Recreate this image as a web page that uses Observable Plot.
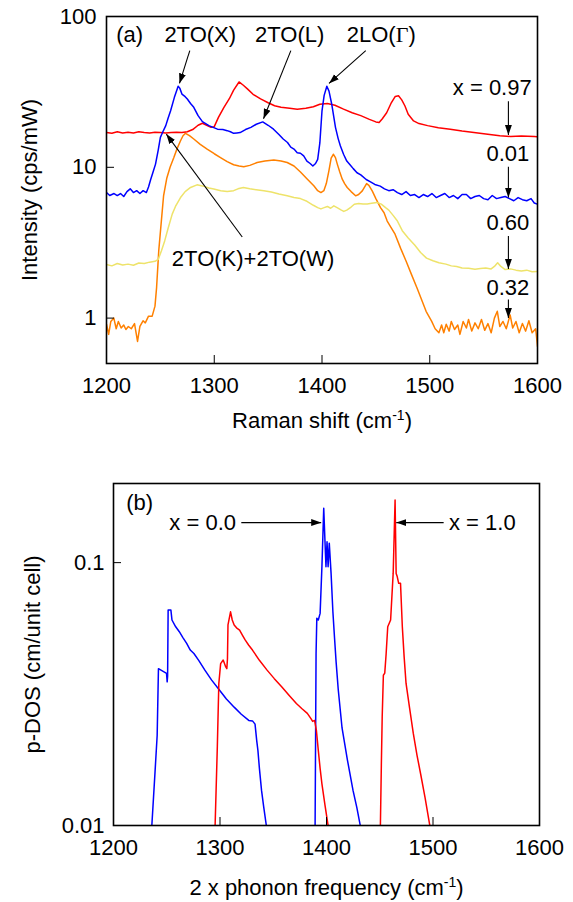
<!DOCTYPE html>
<html><head><meta charset="utf-8">
<script src="https://cdn.jsdelivr.net/npm/d3@7"></script>
<script src="https://cdn.jsdelivr.net/npm/@observablehq/plot@0.6"></script>
<style>
html,body{margin:0;padding:0;background:#fff;}
#chart{width:573px;}
#chart svg{display:block;}
</style></head><body><div id="chart"></div>
<script>
// ---------- Panel (a): Raman spectra [shift cm-1, intensity cps/mW] ----------
const spec097 = [[1200,17.0],[1205,16.8],[1210,17.2],[1215,16.9],[1220,17.1],[1225,16.9],[1230,17.2],[1235,17.0],[1240,16.9],[1245,17.1],[1250,17.0],[1255,16.9],[1260,17.0],[1265,17.1],[1270,17.0],[1275,17.2],[1280,17.8],[1285,19.0],[1289,19.6],[1293,19.0],[1297,18.4],[1300,18.6],[1304,21.5],[1309,25.0],[1314,28.5],[1318,32.5],[1323,36.8],[1327,35.0],[1331,33.0],[1336,30.5],[1343,28.4],[1350,26.8],[1356,25.6],[1362,25.0],[1370,24.6],[1377,24.3],[1385,24.6],[1392,25.2],[1398,26.2],[1405,26.5],[1412,25.8],[1420,24.3],[1428,23.0],[1436,22.0],[1444,20.8],[1450,20.0],[1453,19.8],[1456,21.0],[1460,23.0],[1464,26.5],[1468,29.5],[1471,29.8],[1474,28.0],[1477,25.5],[1480,22.5],[1485,20.3],[1490,19.5],[1498,18.9],[1508,18.3],[1519,17.9],[1530,17.4],[1541,17.0],[1552,16.6],[1565,16.2],[1575,16.0],[1585,16.1],[1597,16.0],[1600,15.9]];
const spec001 = [[1200,6.8],[1203,6.5],[1207,6.7],[1210,6.5],[1213,6.7],[1216,6.4],[1219,6.9],[1222,7.2],[1225,6.8],[1228,7.0],[1231,6.7],[1234,7.0],[1237,6.8],[1239,7.4],[1241,8.3],[1243,9.2],[1245.5,10.5],[1248,13.0],[1250,15.8],[1252,17.0],[1255,18.9],[1257,21.0],[1259.5,23.7],[1263,29.1],[1266.5,34.5],[1268,33.5],[1270,30.6],[1273,29.4],[1275,28.4],[1278,26.5],[1281,25.0],[1285,22.0],[1289,20.1],[1292,19.5],[1295,18.9],[1299,18.4],[1303,17.9],[1308,17.8],[1312,17.5],[1315,17.2],[1318,16.8],[1321,16.9],[1324,17.0],[1329,17.8],[1334,18.4],[1339,19.3],[1345,20.0],[1350,19.0],[1355,17.9],[1360,16.5],[1364,15.4],[1368,14.6],[1371,13.6],[1374,13.2],[1377,12.5],[1380,12.4],[1383,11.9],[1386,11.0],[1389,10.6],[1391.5,10.2],[1394,10.6],[1396,11.3],[1398,14.5],[1400,23.7],[1402,30.0],[1404.5,34.5],[1406.5,32.0],[1409,26.3],[1412.5,18.4],[1415,15.5],[1417,13.9],[1420,12.2],[1423,11.0],[1426,10.4],[1429,9.8],[1432.5,9.2],[1436,8.9],[1441,8.3],[1445,8.0],[1449,7.7],[1454,7.5],[1458,7.2],[1462,7.0],[1466,7.1],[1470,6.8],[1474,6.6],[1478,6.9],[1482,6.5],[1486,6.6],[1490,6.3],[1494,6.6],[1498,6.4],[1502,6.7],[1506,6.3],[1510,6.5],[1514,6.7],[1518,6.3],[1522,6.5],[1526,6.2],[1530,6.6],[1534,6.6],[1538,6.2],[1542,6.4],[1546,6.5],[1550,6.2],[1554,6.1],[1558,6.5],[1562,6.2],[1566,6.3],[1570,6.4],[1574,6.2],[1578,6.0],[1582,6.3],[1586,6.1],[1590,6.0],[1594,6.2],[1597,5.8],[1600,5.7]];
const spec060 = [[1200,2.27],[1205,2.22],[1210,2.3],[1215,2.25],[1220,2.28],[1225,2.24],[1230,2.32],[1235,2.3],[1240,2.35],[1245,2.38],[1248,2.45],[1251,2.8],[1254,3.25],[1257,3.9],[1261,4.89],[1264,5.5],[1268.7,6.3],[1273,6.9],[1278,7.35],[1284,7.65],[1290,7.5],[1295,7.3],[1299.6,7.17],[1306,7.0],[1312,6.9],[1318,7.0],[1322,7.2],[1327,7.35],[1333,7.2],[1339,7.1],[1346,7.0],[1353,6.85],[1360,6.65],[1367.7,6.47],[1374,6.3],[1380,6.2],[1386,5.95],[1392,5.6],[1396,5.4],[1399,5.3],[1402,5.4],[1405,5.5],[1408,5.35],[1411,5.55],[1414,5.4],[1418,5.2],[1420.2,5.1],[1423,5.2],[1427,5.45],[1430,5.69],[1434,5.75],[1438,5.7],[1442,5.72],[1446,5.78],[1451,5.85],[1455,5.7],[1459,5.4],[1462,5.2],[1466,4.8],[1470,4.4],[1474.5,3.8],[1480,3.4],[1486,3.05],[1491.5,2.72],[1497,2.5],[1503,2.4],[1508.5,2.33],[1515,2.28],[1520,2.22],[1525,2.2],[1530,2.15],[1536,2.14],[1542,2.11],[1547,2.13],[1552,2.15],[1557,2.12],[1560,2.2],[1563,2.33],[1566,2.2],[1570,2.1],[1575,2.12],[1580,2.08],[1585,2.05],[1590,2.08],[1595,2.03],[1600,2.04]];
const spec032 = [[1200,0.91],[1202,0.78],[1204,0.95],[1206.8,1.0],[1209,0.85],[1211,0.95],[1213.6,0.86],[1216,0.9],[1218,0.84],[1220.3,0.88],[1223,0.85],[1226,0.92],[1228.8,0.70],[1231,0.88],[1233.9,0.96],[1236,0.93],[1239,1.03],[1242.4,1.03],[1245,1.2],[1246.5,1.6],[1248.5,2.8],[1250.9,4.4],[1253,6.5],[1256,8.5],[1259,10.0],[1262.5,11.6],[1265.5,13.3],[1268.7,15.0],[1271,16.2],[1273.3,16.8],[1277,16.2],[1281,15.4],[1287,14.2],[1293.4,13.2],[1300,12.3],[1305.8,11.6],[1312,10.9],[1318,10.4],[1323,10.2],[1327.4,10.07],[1333,10.3],[1339.8,10.76],[1347,11.0],[1355.3,11.16],[1362,11.0],[1367.7,10.76],[1374,10.2],[1380,9.3],[1386,8.4],[1392.4,7.54],[1396,7.0],[1399,6.8],[1401.7,7.0],[1404,7.8],[1406.4,9.48],[1408.5,11.5],[1410.5,12.2],[1412.5,11.6],[1414.2,10.5],[1416.5,9.3],[1418.8,8.34],[1421,7.8],[1423.4,7.35],[1427,6.9],[1431.2,6.47],[1434,6.6],[1437.4,6.98],[1441.4,7.8],[1443.5,7.6],[1446.6,6.98],[1450,6.2],[1454.3,5.4],[1457.6,5.0],[1460.5,4.4],[1464,4.0],[1467.8,3.6],[1473,2.9],[1478,2.39],[1483,1.95],[1488.1,1.59],[1492,1.35],[1496.6,1.11],[1501.7,0.955],[1505,0.85],[1508.5,0.80],[1511,0.9],[1513,0.8],[1515.3,0.91],[1518,0.82],[1520,0.95],[1523,0.84],[1526,0.9],[1528,0.78],[1531,0.95],[1534,0.86],[1536,0.98],[1539,0.82],[1542,0.93],[1545,0.85],[1548,0.98],[1551,0.83],[1554,0.92],[1557,0.8],[1560,1.0],[1562.7,1.11],[1565,0.88],[1568,0.95],[1571,0.85],[1574.6,1.05],[1577,0.86],[1580,0.95],[1583,0.8],[1586,0.92],[1589,0.82],[1592,0.96],[1595,0.8],[1598.3,0.85],[1600,0.65]];
const seriesNamesA = ["0.32", "0.60", "0.97", "0.01"];
const seriesColorsA = ["#ff8000", "#eee36a", "#ff0000", "#0000ff"];

// ---------- Panel (b): p-DOS [2 x phonon frequency, p-DOS]; null = break ----------
const dos00 = [[1236,0.01],[1239,0.016],[1241,0.022],[1242.2,0.0395],[1244.6,0.039],[1247,0.0385],[1249.8,0.0379],[1250.4,0.0352],[1250.8,0.037],[1251.3,0.066],[1253.9,0.066],[1254.9,0.0605],[1258.4,0.057],[1261.8,0.0546],[1265,0.052],[1268.7,0.0493],[1272.1,0.0465],[1275.5,0.0451],[1280,0.0425],[1285.8,0.039],[1292,0.0358],[1299.6,0.0327],[1306,0.0303],[1313.3,0.0282],[1320,0.0265],[1327,0.0251],[1330.5,0.025],[1332.9,0.0243],[1334.5,0.021],[1335.6,0.0193],[1337,0.0165],[1339,0.0136],[1341,0.0118],[1343.5,0.01],[null,null],
  [1389.3,0.01],[1390.2,0.045],[1390.9,0.0614],[1392.3,0.0605],[1394,0.0641],[1395.7,0.0965],[1397.4,0.161],[1398.4,0.1256],[1399.5,0.0965],[1400.5,0.12],[1401.5,0.0965],[1402.6,0.1186],[1404.3,0.091],[1406,0.065],[1407.5,0.052],[1409,0.042],[1411,0.033],[1414.6,0.0235],[1419.7,0.0177],[1424.9,0.0136],[1428.5,0.0117],[1431.7,0.01]];
const dos10 = [[1295.4,0.01],[1297.5,0.02],[1298.9,0.0347],[1300.6,0.0413],[1303,0.0426],[1305.4,0.0401],[1306.4,0.0395],[1307,0.043],[1307.5,0.058],[1308.1,0.0596],[1309.9,0.065],[1311.5,0.0605],[1313.3,0.0579],[1315.5,0.0565],[1318.4,0.0554],[1321,0.053],[1323.6,0.0508],[1327,0.0485],[1330.5,0.0465],[1337,0.0425],[1344.2,0.039],[1351,0.0362],[1357.9,0.0337],[1365,0.0312],[1371.7,0.0291],[1377,0.0278],[1382,0.0267],[1385.4,0.0255],[1387,0.0249],[1388.8,0.0251],[1390.5,0.023],[1392.3,0.0193],[1394,0.0165],[1395.7,0.0144],[1398.5,0.012],[1401.5,0.01],[null,null],
  [1450.6,0.01],[1451.5,0.017],[1452.3,0.0259],[1453.4,0.0373],[1454.7,0.038],[1456,0.045],[1457.5,0.057],[1460.2,0.0605],[1462.6,0.091],[1463.6,0.13],[1464.4,0.173],[1465.4,0.091],[1466.4,0.0885],[1467.8,0.0834],[1469.5,0.0834],[1471.2,0.057],[1472.9,0.0438],[1474.7,0.0347],[1478,0.028],[1481.5,0.0224],[1485,0.0185],[1488.4,0.0157],[1492.5,0.0128],[1497,0.01]];
const seriesNamesB = ["x = 0.0", "x = 1.0"];
const seriesColorsB = ["#0000ff", "#ff0000"];

// ---------- ticks ----------
const xTicks = [1200, 1300, 1400, 1500, 1600];
const yTicksA = [1, 10, 100];
const yTicksB = [0.01, 0.1];

// ---------- annotations ----------
const labelsA = [
  {x:1209, y:75, text:"(a)", anchor:"start"},
  {x:1287, y:75, text:"2TO(X)", anchor:"middle"},
  {x:1370, y:75, text:"2TO(L)", anchor:"middle"},
  {x:1455, y:75, text:"2LO(Γ)", anchor:"middle"},
  {x:1336, y:2.46, text:"2TO(K)+2TO(W)", anchor:"middle"},
  {x:1558, y:33.4, text:"x = 0.97", anchor:"middle"},
  {x:1572.5, y:12.2, text:"0.01", anchor:"middle"},
  {x:1572.5, y:4.3, text:"0.60", anchor:"middle"},
  {x:1572.5, y:1.59, text:"0.32", anchor:"middle"}
];
const arrowsA = [
  {x1:1277.3, y1:59.4, x2:1267.7, y2:36},
  {x1:1371.1, y1:59.4, x2:1345.7, y2:21},
  {x1:1440.6, y1:59.4, x2:1406.5, y2:36},
  {x1:1326, y1:3.45, x2:1255.5, y2:16.6},
  {x1:1573, y1:27.4, x2:1573, y2:16.4},
  {x1:1573, y1:10.1, x2:1573, y2:6.3},
  {x1:1573, y1:3.5, x2:1573, y2:2.12},
  {x1:1573, y1:1.33, x2:1573, y2:1.0}
];
const labelsB = [
  {x:1212, y:0.168, text:"(b)", anchor:"start"},
  {x:1315, y:0.142, text:"x = 0.0", anchor:"end"},
  {x:1515, y:0.142, text:"x = 1.0", anchor:"start"}
];
const arrowsB = [
  {x1:1320, y1:0.142, x2:1395, y2:0.142},
  {x1:1510, y1:0.142, x2:1465.5, y2:0.142}
];

// ---------- helpers ----------
const NS = "http://www.w3.org/2000/svg";
function triangle(color, context) {
  const doc = (context && context.document) || document;
  const m = doc.createElementNS(NS, "marker");
  m.setAttribute("viewBox", "-10 -4 10 8");
  m.setAttribute("markerWidth", "10");
  m.setAttribute("markerHeight", "8");
  m.setAttribute("markerUnits", "userSpaceOnUse");
  m.setAttribute("orient", "auto");
  m.setAttribute("fill", color);
  m.setAttribute("stroke", "none");
  const p = doc.createElementNS(NS, "path");
  p.setAttribute("d", "M-10,-3.5L0,0L-10,3.5Z");
  m.appendChild(p);
  return m;
}
const FS = 22;
const fontStyle = {fontFamily: "'Liberation Sans', Arial, sans-serif", fontSize: FS + "px", color: "black", background: "white", overflow: "visible"};
const rowsA = [spec032, spec060, spec097, spec001].flatMap((s, i) => s.map(([x, y]) => ({x, y, name: seriesNamesA[i], color: seriesColorsA[i]})));
const rowsB = [dos00, dos10].flatMap((s, i) => s.map(([x, y]) => ({x, y, name: seriesNamesB[i], color: seriesColorsB[i]})));

function labelMarks(labels) {
  return ["start", "middle", "end"].map(a =>
    Plot.text(labels.filter(d => d.anchor === a), {x: "x", y: "y", text: "text", textAnchor: a, lineAnchor: "middle", fill: "black", fontSize: FS}));
}
function axisMarks(yTicks, yPad) {
  return [
    Plot.axisX({ticks: xTicks, tickSize: -8, fill: "none", label: null}),
    Plot.axisX({ticks: xTicks, tickSize: 0, tickPadding: 14, tickFormat: "d", label: null, fontSize: FS}),
    Plot.axisY({ticks: yTicks, tickSize: -8, fill: "none", label: null}),
    Plot.axisY({ticks: yTicks, tickSize: 0, tickPadding: yPad, tickFormat: d => String(d), label: null, fontSize: FS})
  ];
}

const plotA = Plot.plot({
  width: 573, height: 440,
  marginLeft: 106, marginRight: 36, marginTop: 16, marginBottom: 77,
  style: fontStyle,
  x: {domain: [1200, 1600]},
  y: {type: "log", domain: [0.5, 100]},
  marks: [
    Plot.line(rowsA, {x: "x", y: "y", z: "name", stroke: "color", strokeWidth: 1.5, clip: true}),
    Plot.link(arrowsA, {x1: "x1", y1: "y1", x2: "x2", y2: "y2", stroke: "black", strokeWidth: 1.1, markerEnd: triangle}),
    ...labelMarks(labelsA),
    ...axisMarks(yTicksA, 10),
    Plot.text(["Raman shift (cm-1)"], {frameAnchor: "bottom", dy: 57, text: d => d, textAnchor: "middle", lineAnchor: "middle", fill: "black", fontSize: FS}),
    Plot.text(["Intensity (cps/mW)"], {frameAnchor: "left", dx: -77, rotate: -90, text: d => d, textAnchor: "middle", lineAnchor: "middle", fill: "black", fontSize: FS}),
    Plot.frame({stroke: "black", strokeWidth: 1.6})
  ]
});

const plotB = Plot.plot({
  width: 573, height: 462,
  marginLeft: 113, marginRight: 34, marginTop: 43, marginBottom: 77,
  style: fontStyle,
  x: {domain: [1200, 1600]},
  y: {type: "log", domain: [0.01, 0.2]},
  marks: [
    Plot.line(rowsB, {x: "x", y: "y", z: "name", stroke: "color", strokeWidth: 1.5, clip: true}),
    Plot.link(arrowsB, {x1: "x1", y1: "y1", x2: "x2", y2: "y2", stroke: "black", strokeWidth: 1.1, markerEnd: triangle}),
    ...labelMarks(labelsB),
    ...axisMarks(yTicksB, 9),
    Plot.text(["2 x phonon frequency (cm-1)"], {frameAnchor: "bottom", dy: 62, text: d => d, textAnchor: "middle", lineAnchor: "middle", fill: "black", fontSize: FS}),
    Plot.text(["p-DOS (cm/unit cell)"], {frameAnchor: "left", dx: -81, rotate: -90, text: d => d, textAnchor: "middle", lineAnchor: "middle", fill: "black", fontSize: FS}),
    Plot.frame({stroke: "black", strokeWidth: 1.6})
  ]
});

const chart = document.getElementById("chart");
chart.appendChild(plotA);
chart.appendChild(plotB);

// superscripts and serif Gamma
for (const t of chart.querySelectorAll("text")) {
  const s = t.textContent;
  if (s.endsWith("(cm-1)")) {
    const base = s.slice(0, -3);
    t.textContent = "";
    const a = document.createElementNS(NS, "tspan"); a.textContent = base; t.appendChild(a);
    const b = document.createElementNS(NS, "tspan"); b.textContent = "-1"; b.setAttribute("dy", "-8"); b.setAttribute("font-size", "14px"); t.appendChild(b);
    const c = document.createElementNS(NS, "tspan"); c.textContent = ")"; c.setAttribute("dy", "8"); t.appendChild(c);
  } else if (s.includes("Γ")) {
    const [pre, post] = s.split("Γ");
    t.textContent = "";
    const a = document.createElementNS(NS, "tspan"); a.textContent = pre; t.appendChild(a);
    const b = document.createElementNS(NS, "tspan"); b.textContent = "Γ"; b.setAttribute("font-family", "'Liberation Serif', serif"); t.appendChild(b);
    const c = document.createElementNS(NS, "tspan"); c.textContent = post; t.appendChild(c);
  }
}
</script></body></html>
